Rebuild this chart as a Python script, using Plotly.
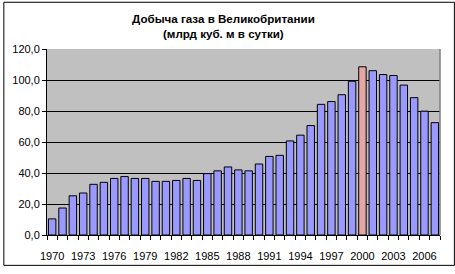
import plotly.graph_objects as go

years = list(range(1970, 2008))
values = [10.4, 17.4, 25.3, 27.1, 32.7, 34.0, 36.5, 37.7, 36.5, 36.5,
          34.6, 34.6, 35.2, 36.5, 35.2, 39.6, 41.4, 43.9, 42.0, 41.4,
          45.8, 50.7, 51.4, 60.7, 64.4, 70.6, 84.3, 86.1, 90.5, 99.2,
          108.5, 106.0, 103.5, 102.9, 96.7, 88.6, 79.9, 72.5]
highlight_year = 2000
title_line1 = "Добыча газа в Великобритании"
title_line2 = "(млрд куб. м в сутки)"
xtick_years = list(range(1970, 2008, 3))
ytick_vals = [0, 20, 40, 60, 80, 100, 120]

colors = ["#E6A6A6" if y == highlight_year else "#9999FF" for y in years]

W, H = 455, 274
L, R, T, B = 44, 15, 49, 32
pw, ph = W - L - R, H - T - B

fig = go.Figure()
fig.add_trace(go.Bar(x=years, y=values, marker=dict(color=colors, line=dict(color="black", width=1)),
                     hoverinfo="x+y"))

font = dict(family="Liberation Sans, Arial, sans-serif", size=11, color="black")
tfont = dict(family="Liberation Sans, Arial, sans-serif", size=11.6, color="black")

fig.update_layout(
    width=W, height=H, margin=dict(l=L, r=R, t=T, b=B, pad=0),
    paper_bgcolor="white", plot_bgcolor="#C0C0C0",
    separators=",.", font=font, showlegend=False, bargap=0.28,
    xaxis=dict(range=[1969.5, 2007.5], tickvals=xtick_years, ticktext=[str(y) for y in xtick_years],
               ticks="outside", ticklen=4, tickcolor="rgba(0,0,0,0)", showgrid=False,
               showline=True, linecolor="black", linewidth=1, zeroline=False,
               ticklabelstandoff=7,
               minor=dict(tickvals=[y - 0.5 for y in years] + [2007.5], ticks="outside", ticklen=4,
                          tickcolor="black", showgrid=False)),
    yaxis=dict(range=[0, 120], tickvals=ytick_vals, tickformat=".1f", ticks="outside", ticklen=4,
               tickcolor="black", showgrid=True, gridcolor="black", gridwidth=1,
               showline=True, linecolor="black", linewidth=1, zeroline=False),
    shapes=[
        dict(type="rect", xref="paper", yref="paper", x0=1, x1=1, y0=0, y1=1,
             line=dict(color="#808080", width=1), layer="above"),
        dict(type="rect", xref="paper", yref="paper",
             x0=(0.5 - L) / pw, x1=(W - 0.5 - L) / pw,
             y0=(0.5 - B) / ph, y1=(H - 0.5 - B) / ph,
             line=dict(color="black", width=1), layer="above"),
    ],
    annotations=[
        dict(text="<b>" + title_line1 + "</b>", xref="paper", yref="paper",
             x=(222 - L) / pw, y=(H - 17 - B) / ph, showarrow=False, xanchor="center", yanchor="middle",
             font=tfont),
        dict(text="<b>" + title_line2 + "</b>", xref="paper", yref="paper",
             x=(222 - L) / pw, y=(H - 33 - B) / ph, showarrow=False, xanchor="center", yanchor="middle",
             font=tfont),
    ],
)

fig.write_html("out.html")
